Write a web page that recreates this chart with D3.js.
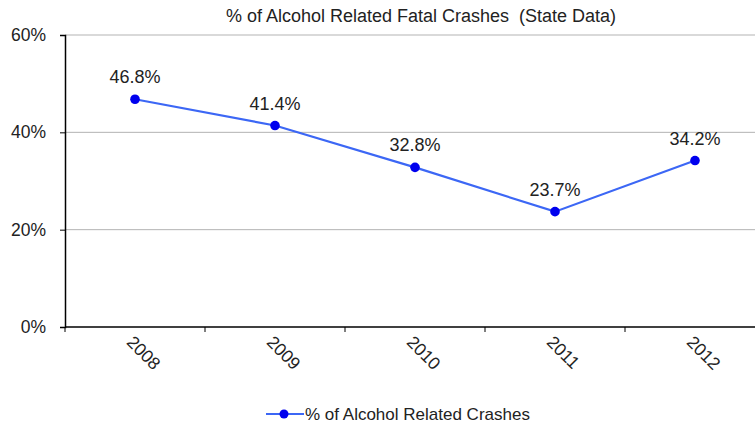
<!DOCTYPE html>
<html><head><meta charset="utf-8">
<script src="https://cdn.jsdelivr.net/npm/d3@7"></script>
<style>body{margin:0;background:#fff}svg{display:block;font-family:"Liberation Sans",Arial,sans-serif}</style>
</head><body><svg id="c" width="755" height="427"></svg>
<script>
const title = "% of Alcohol Related Fatal Crashes  (State Data)";
const seriesName = "% of Alcohol Related Crashes";
const years = ["2008","2009","2010","2011","2012"];
const values = [46.8, 41.4, 32.8, 23.7, 34.2];
const yTicks = [0, 20, 40, 60];

const svg = d3.select("#c");
const m = {l:65, r:765, t:35, b:327};
const x = d3.scaleBand().domain(years).range([m.l, m.r]);
const y = d3.scaleLinear().domain([0,60]).range([m.b, m.t]);

// gridlines
svg.append("g").selectAll("line").data(yTicks.filter(d=>d>0)).join("line")
  .attr("x1", m.l).attr("x2", 755).attr("y1", d=>y(d)).attr("y2", d=>y(d))
  .attr("stroke", "#b3b3b3").attr("stroke-width", 1);

// y axis
const ya = svg.append("g").attr("transform", `translate(${m.l},0)`)
  .call(d3.axisLeft(y).tickValues(yTicks).tickSize(5).tickFormat(d=>d+"%"));
ya.select(".domain").attr("stroke","#000").attr("stroke-width",1.5);
ya.selectAll(".tick line").attr("stroke","#000");
ya.selectAll(".tick text").attr("font-size",17.5).attr("fill","#222").attr("x",-19).attr("font-family","Liberation Sans, Arial, sans-serif");

// x axis
const xa = svg.append("g").attr("transform", `translate(0,${m.b})`);
xa.append("line").attr("x1", m.l).attr("x2", 755).attr("y1",0).attr("y2",0).attr("stroke","#000").attr("stroke-width",1.5);
xa.selectAll("line.t").data(years.map((d,i)=>i)).join("line").attr("class","t")
  .attr("x1", i=>x(years[i])).attr("x2", i=>x(years[i])).attr("y1",0).attr("y2",5).attr("stroke","#000");
xa.selectAll("text").data(years).join("text")
  .attr("transform", d=>`translate(${x(d)+x.bandwidth()/2-5},${12}) rotate(45)`)
  .attr("font-size",17.5).attr("fill","#222").attr("text-anchor","start")
  .attr("dy","0.35em").text(d=>d);

// line
const pts = years.map((d,i)=>[x(d)+x.bandwidth()/2, y(values[i])]);
svg.append("path").attr("d", d3.line()(pts)).attr("fill","none")
  .attr("stroke","#3c67f5").attr("stroke-width",2.2);
svg.selectAll("circle.p").data(pts).join("circle").attr("class","p")
  .attr("cx", d=>d[0]).attr("cy", d=>d[1]).attr("r",4.8).attr("fill","#0000ee");
svg.selectAll("text.lab").data(values).join("text").attr("class","lab")
  .attr("x",(d,i)=>pts[i][0]).attr("y",(d,i)=>pts[i][1]-16)
  .attr("text-anchor","middle").attr("font-size",18).attr("fill","#222")
  .text(d=>d.toFixed(1)+"%");

// title
svg.append("text").attr("x",421).attr("y",22).attr("text-anchor","middle")
  .attr("font-size",18).attr("fill","#222").style("white-space","pre").text(title);

// legend
const lg = svg.append("g");
lg.append("line").attr("x1",266).attr("x2",304).attr("y1",414).attr("y2",414).attr("stroke","#3c67f5").attr("stroke-width",2.2);
lg.append("circle").attr("cx",284).attr("cy",414).attr("r",4.5).attr("fill","#0000ee");
lg.append("text").attr("x",305).attr("y",420).attr("font-size",17).attr("fill","#222").text(seriesName);
</script></body></html>
